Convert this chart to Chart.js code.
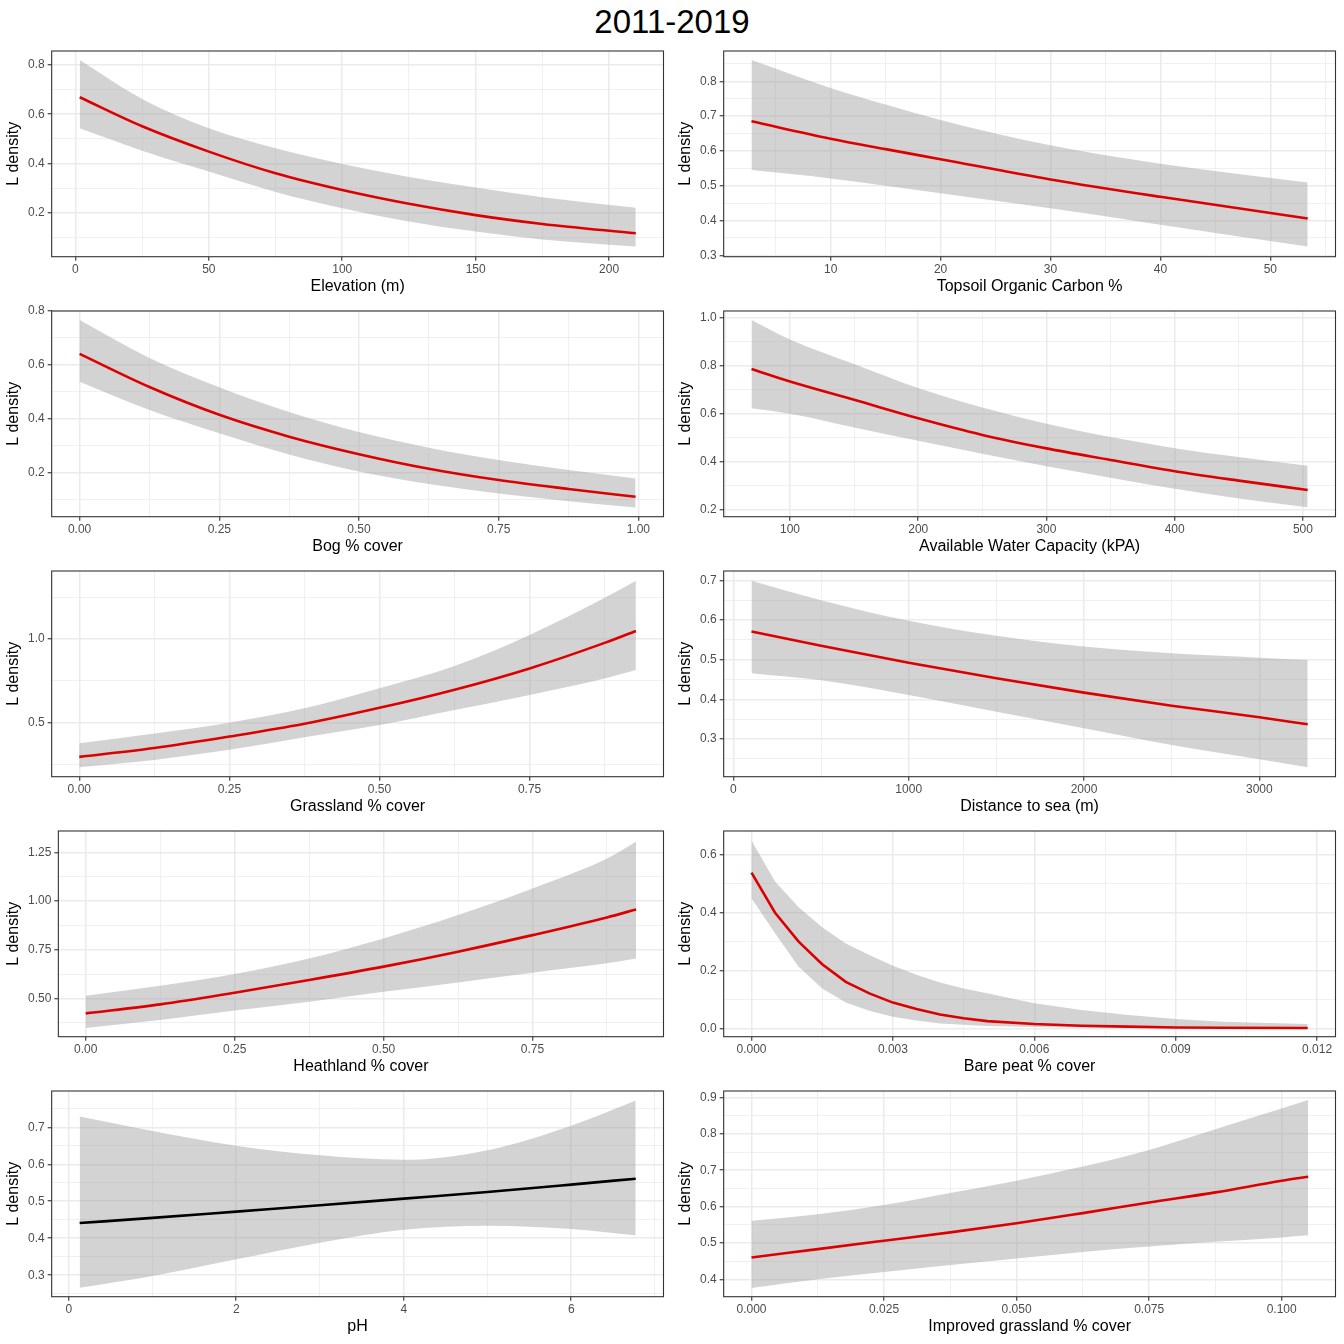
<!DOCTYPE html>
<html>
<head>
<meta charset="utf-8">
<title>2011-2019</title>
<script src="https://cdn.jsdelivr.net/npm/chart.js@4.4.1/dist/chart.umd.min.js"></script>
<style>
  body { margin: 0; background: #fff; width: 1344px; height: 1344px; position: relative; overflow: hidden;
         font-family: "Liberation Sans", Arial, sans-serif; }
  #title { position: absolute; left: 0; top: 0; width: 1344px; text-align: center; font-size: 33px; line-height: 44px; color: #000; }
  .cell { position: absolute; width: 672px; height: 260px; }
</style>
</head>
<body>
<div id="title">2011-2019</div>
<div id="panels"></div>
<script>
// ---- data (x, fitted line, upper / lower band) ----
const xElev  = [1.6, 25, 50, 75, 100, 125, 150, 175, 210];
const fitElev = [0.669, 0.551, 0.448, 0.360, 0.292, 0.236, 0.190, 0.154, 0.116];
const upElev  = [0.820, 0.662, 0.543, 0.462, 0.398, 0.345, 0.302, 0.263, 0.220];
const loElev  = [0.543, 0.452, 0.367, 0.284, 0.218, 0.164, 0.123, 0.091, 0.062];

const xToc   = [2.8, 10, 15, 20, 30, 40, 53.4];
const fitToc = [0.685, 0.635, 0.605, 0.576, 0.518, 0.468, 0.406];
const upToc  = [0.861, 0.781, 0.733, 0.689, 0.616, 0.563, 0.509];
const loToc  = [0.545, 0.521, 0.500, 0.478, 0.435, 0.388, 0.325];

const xBog   = [0, 0.125, 0.25, 0.375, 0.5, 0.625, 0.75, 0.875, 0.995];
const fitBog = [0.641, 0.518, 0.415, 0.334, 0.269, 0.215, 0.173, 0.140, 0.111];
const upBog  = [0.767, 0.626, 0.517, 0.425, 0.351, 0.293, 0.247, 0.210, 0.179];
const loBog  = [0.538, 0.433, 0.347, 0.268, 0.205, 0.158, 0.123, 0.094, 0.071];

const xAwc   = [70, 100, 150, 200, 250, 300, 350, 400, 450, 503.7];
const fitAwc = [0.785, 0.733, 0.657, 0.580, 0.511, 0.455, 0.407, 0.360, 0.321, 0.282];
const upAwc  = [0.989, 0.908, 0.806, 0.706, 0.625, 0.557, 0.502, 0.456, 0.419, 0.383];
const loAwc  = [0.622, 0.599, 0.542, 0.487, 0.433, 0.381, 0.333, 0.287, 0.247, 0.210];

const xGrass   = [0, 0.125, 0.25, 0.375, 0.5, 0.625, 0.75, 0.875, 0.927];
const fitGrass = [0.298, 0.351, 0.419, 0.495, 0.590, 0.698, 0.825, 0.977, 1.048];
const upGrass  = [0.379, 0.438, 0.502, 0.587, 0.706, 0.839, 1.024, 1.245, 1.347];
const loGrass  = [0.236, 0.280, 0.340, 0.415, 0.488, 0.577, 0.667, 0.765, 0.815];

const xDist   = [103, 500, 1000, 1500, 2000, 2500, 3000, 3276];
const fitDist = [0.571, 0.535, 0.492, 0.453, 0.417, 0.384, 0.355, 0.337];
const upDist  = [0.699, 0.650, 0.598, 0.560, 0.533, 0.516, 0.505, 0.499];
const loDist  = [0.466, 0.448, 0.411, 0.369, 0.327, 0.285, 0.249, 0.229];

const xHeath   = [0, 0.125, 0.25, 0.375, 0.5, 0.625, 0.75, 0.875, 0.924];
const fitHeath = [0.423, 0.469, 0.529, 0.594, 0.663, 0.740, 0.825, 0.916, 0.957];
const upHeath  = [0.514, 0.565, 0.625, 0.705, 0.808, 0.928, 1.065, 1.219, 1.305];
const loHeath  = [0.348, 0.389, 0.437, 0.483, 0.534, 0.582, 0.632, 0.680, 0.705];

const xPeat   = [0, 0.0005, 0.001, 0.0015, 0.002, 0.0025, 0.003, 0.0035, 0.004, 0.0045, 0.005, 0.006, 0.007, 0.008, 0.009, 0.010, 0.0118];
const fitPeat = [0.539, 0.400, 0.300, 0.222, 0.161, 0.121, 0.089, 0.067, 0.048, 0.035, 0.025, 0.015, 0.009, 0.006, 0.003, 0.002, 0.001];
const upPeat  = [0.650, 0.508, 0.419, 0.350, 0.294, 0.254, 0.217, 0.185, 0.159, 0.138, 0.121, 0.087, 0.063, 0.046, 0.032, 0.023, 0.015];
const loPeat  = [0.450, 0.329, 0.213, 0.138, 0.089, 0.061, 0.040, 0.027, 0.017, 0.012, 0.008, 0.005, 0.002, 0.001, 0.001, 0.0005, 0.0003];

const xPh   = [0.13, 1, 2, 3, 4, 5, 6, 6.77];
const fitPh = [0.441, 0.455, 0.472, 0.489, 0.507, 0.525, 0.545, 0.561];
const upPh  = [0.729, 0.690, 0.650, 0.624, 0.612, 0.638, 0.704, 0.772];
const loPh  = [0.266, 0.298, 0.343, 0.388, 0.423, 0.434, 0.425, 0.408];

const xImp   = [0, 0.0125, 0.025, 0.0375, 0.05, 0.0625, 0.075, 0.0875, 0.1, 0.105];
const fitImp = [0.460, 0.483, 0.506, 0.529, 0.554, 0.582, 0.611, 0.639, 0.671, 0.682];
const upImp  = [0.561, 0.579, 0.604, 0.637, 0.671, 0.710, 0.756, 0.813, 0.870, 0.893];
const loImp  = [0.376, 0.400, 0.420, 0.439, 0.457, 0.475, 0.490, 0.503, 0.515, 0.521];

const yTitle = "L density";

// ---- styling ----
const FONT = '"Liberation Sans", Arial, sans-serif';
const RED = '#dd0000';
const BAND = 'rgba(153,153,153,0.43)';
const GRID = '#ebebeb';

function isMult(v, step) {
    const r = v / step;
    return Math.abs(r - Math.round(r)) < 1e-6;
}

function pts(xs, ys) {
    return xs.map((x, i) => ({ x: x, y: ys[i] }));
}

// major + minor breaks like ggplot: ticks every "minor", labels only on "major"
function axis(min, max, major, minor, dec, title, isX) {
    const isMajor = c => c.tick && isMult(c.tick.value, major);
    return {
        type: 'linear', min: min, max: max,
        border: { display: false },
        afterBuildTicks: scale => {
            const out = [];
            const k0 = Math.ceil(min / minor - 1e-9), k1 = Math.floor(max / minor + 1e-9);
            for (let k = k0; k <= k1; k++) out.push({ value: Math.round(k * minor * 1e9) / 1e9 });
            scale.ticks = out;
        },
        grid: {
            color: GRID,
            lineWidth: c => isMajor(c) ? 1.5 : 0.75,
            tickLength: 4,
            tickColor: c => isMajor(c) ? '#333333' : 'rgba(0,0,0,0)',
            tickWidth: 1.1
        },
        ticks: {
            autoSkip: false, maxRotation: 0, minRotation: 0,
            padding: 3, color: '#4d4d4d',
            font: { family: FONT, size: 12, lineHeight: 1 },
            callback: v => isMult(v, major) ? (Math.abs(v) < 1e-12 ? 0 : v).toFixed(dec) : ''
        },
        title: {
            display: true, text: title, color: '#000',
            font: { family: FONT, size: 16, lineHeight: 1 },
            padding: isX ? { top: 0, bottom: 0 } : { top: 4, bottom: 3 }
        }
    };
}

const panelBorder = {
    id: 'panelBorder',
    afterDatasetsDraw(chart) {
        const a = chart.chartArea, c = chart.ctx;
        c.save();
        c.strokeStyle = '#333333';
        c.lineWidth = 1.1;
        c.strokeRect(a.left, a.top, a.right - a.left, a.bottom - a.top);
        c.restore();
    }
};

const panels = [
    { row: 0, col: 0, x: xElev, fit: fitElev, up: upElev, lo: loElev, xlab: 'Elevation (m)',
      xr: [-8.9, 220.4, 50, 25, 0], yr: [0.021, 0.857, 0.2, 0.1, 1] },
    { row: 0, col: 1, x: xToc, fit: fitToc, up: upToc, lo: loToc, xlab: 'Topsoil Organic Carbon %',
      xr: [0.27, 55.93, 10, 5, 0], yr: [0.296, 0.887, 0.1, 0.05, 1] },
    { row: 1, col: 0, x: xBog, fit: fitBog, up: upBog, lo: loBog, xlab: 'Bog % cover',
      xr: [-0.05, 1.045, 0.25, 0.125, 2], yr: [0.037, 0.80, 0.2, 0.1, 1] },
    { row: 1, col: 1, x: xAwc, fit: fitAwc, up: upAwc, lo: loAwc, xlab: 'Available Water Capacity (kPA)',
      xr: [48.3, 525.4, 100, 50, 0], yr: [0.171, 1.026, 0.2, 0.1, 1] },
    { row: 2, col: 0, x: xGrass, fit: fitGrass, up: upGrass, lo: loGrass, xlab: 'Grassland % cover',
      xr: [-0.046, 0.973, 0.25, 0.125, 2], yr: [0.18, 1.405, 0.5, 0.25, 1] },
    { row: 2, col: 1, x: xDist, fit: fitDist, up: upDist, lo: loDist, xlab: 'Distance to sea (m)',
      xr: [-55.6, 3434.7, 1000, 500, 0], yr: [0.205, 0.7235, 0.1, 0.05, 1] },
    { row: 3, col: 0, x: xHeath, fit: fitHeath, up: upHeath, lo: loHeath, xlab: 'Heathland % cover',
      xr: [-0.046, 0.970, 0.25, 0.125, 2], yr: [0.303, 1.36, 0.25, 0.125, 2] },
    { row: 3, col: 1, x: xPeat, fit: fitPeat, up: upPeat, lo: loPeat, xlab: 'Bare peat % cover', straight: true,
      xr: [-0.00059, 0.01239, 0.003, 0.0015, 3], yr: [-0.029, 0.683, 0.2, 0.1, 1] },
    { row: 4, col: 0, x: xPh, fit: fitPh, up: upPh, lo: loPh, xlab: 'pH', color: '#000000',
      xr: [-0.204, 7.102, 2, 1, 0], yr: [0.242, 0.798, 0.1, 0.05, 1] },
    { row: 4, col: 1, x: xImp, fit: fitImp, up: upImp, lo: loImp, xlab: 'Improved grassland % cover',
      xr: [-0.00525, 0.11015, 0.025, 0.0125, 3], yr: [0.352, 0.918, 0.1, 0.05, 1] }
];

const holder = document.getElementById('panels');

panels.forEach(function (p, i) {
    const cell = document.createElement('div');
    cell.className = 'cell';
    cell.style.left = (p.col * 672) + 'px';
    cell.style.top = (42 + p.row * 260) + 'px';
    const cv = document.createElement('canvas');
    cv.id = 'panel' + i;
    cell.appendChild(cv);
    holder.appendChild(cell);

    const curve = p.straight ? { tension: 0 } : { cubicInterpolationMode: 'monotone' };

    new Chart(cv.getContext('2d'), {
        type: 'line',
        data: {
            datasets: [
                Object.assign({ data: pts(p.x, p.fit), borderColor: p.color || RED, borderWidth: 2.6,
                    pointRadius: 0, fill: false, order: 0 }, curve),
                Object.assign({ data: pts(p.x, p.up), borderColor: 'rgba(0,0,0,0)', borderWidth: 0,
                    pointRadius: 0, fill: '+1', backgroundColor: BAND, order: 1 }, curve),
                Object.assign({ data: pts(p.x, p.lo), borderColor: 'rgba(0,0,0,0)', borderWidth: 0,
                    pointRadius: 0, fill: false, order: 2 }, curve)
            ]
        },
        options: {
            responsive: true,
            maintainAspectRatio: false,
            animation: false,
            events: [],
            layout: { padding: { left: 2, right: 8.5, top: 9, bottom: 7.3 } },
            plugins: { legend: { display: false }, tooltip: { enabled: false } },
            scales: {
                x: axis(p.xr[0], p.xr[1], p.xr[2], p.xr[3], p.xr[4], p.xlab, true),
                y: axis(p.yr[0], p.yr[1], p.yr[2], p.yr[3], p.yr[4], yTitle, false)
            }
        },
        plugins: [panelBorder]
    });
});
</script>
</body>
</html>
